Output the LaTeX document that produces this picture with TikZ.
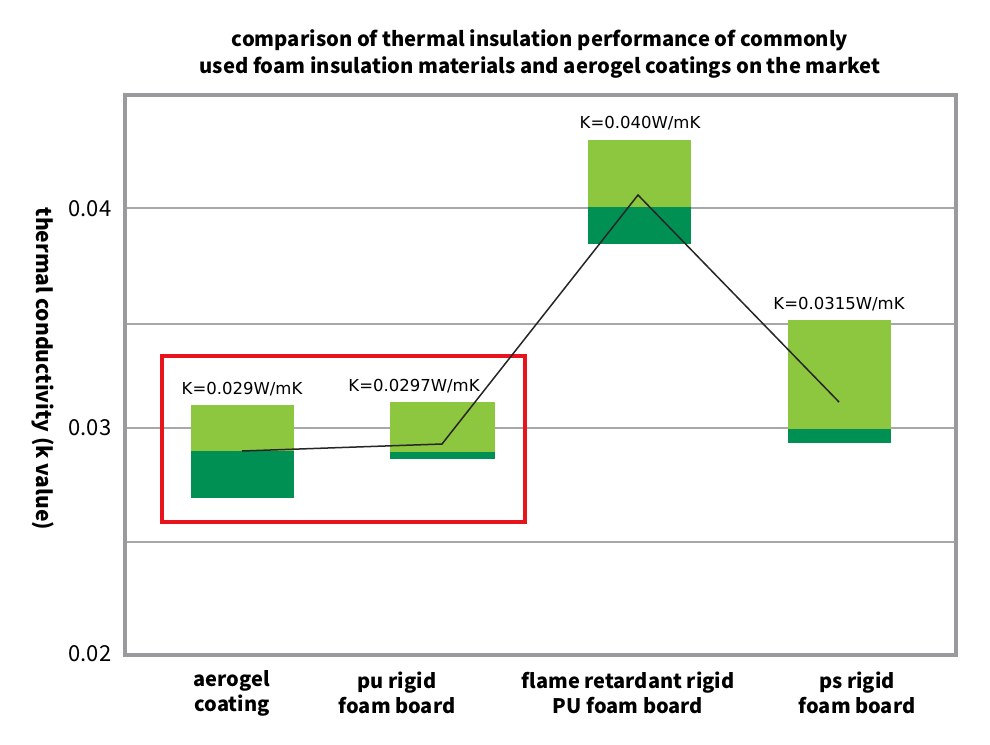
\documentclass[tikz,border=0pt]{standalone}
\usepackage{fontspec}
\newfontfamily\cjk{Noto Sans CJK SC}
\newfontfamily\dv{DejaVu Sans}
\definecolor{lgreen}{HTML}{8DC63F}
\definecolor{dgreen}{HTML}{009053}
\definecolor{framegray}{HTML}{9A9A9C}
\definecolor{gridgray}{HTML}{A8A8AA}
\definecolor{hired}{HTML}{E8141C}
\tikzset{
  titletext/.style={font=\cjk\bfseries\fontsize{20.2}{27}\selectfont, align=center, inner sep=0pt},
  axislabel/.style={font=\cjk\bfseries\fontsize{20}{25}\selectfont, align=center, inner sep=0pt},
  ylabelstyle/.style={font=\cjk\bfseries\fontsize{21}{25}\selectfont, inner sep=0pt},
  ticklabel/.style={font=\cjk\fontsize{22}{24}\selectfont, inner sep=0pt},
  klabel/.style={font=\dv\fontsize{16.5}{18}\selectfont, inner sep=0pt},
  gridline/.style={draw=gridgray, line width=2pt},
  framebox/.style={draw=framegray, line width=4pt},
  hibox/.style={draw=hired, line width=4pt},
  trend/.style={draw=black!85, line width=1.5pt, line join=miter},
}
\begin{document}
\begin{tikzpicture}[x=1pt,y=-1pt]
\useasboundingbox[fill=white] (0,0) rectangle (990,744);
% title
\node[titletext] (title) at (540,54) {comparison of thermal insulation performance of commonly\\used foam insulation materials and aerogel coatings on the market};
% grid
\draw[gridline] (125,208) -- (956,208);
\draw[gridline] (125,324) -- (956,324);
\draw[gridline] (125,428) -- (956,428);
\draw[gridline] (125,542) -- (956,542);
% bars
\fill[lgreen] (191,405) rectangle (294,451);
\fill[dgreen] (191,451) rectangle (294,498);
\fill[lgreen] (390,402) rectangle (495,452);
\fill[dgreen] (390,452) rectangle (495,459);
\fill[lgreen] (588,140) rectangle (691,207);
\fill[dgreen] (588,207) rectangle (691,244);
\fill[lgreen] (788,320) rectangle (891,429);
\fill[dgreen] (788,429) rectangle (891,443);
% frame
\draw[framebox] (125,95) rectangle (956,655);
% highlight box
\draw[hibox] (162,356) rectangle (525,522);
% trend line
\coordinate (p1) at (242,451);
\coordinate (p2) at (442,444);
\coordinate (p3) at (638,195);
\coordinate (p4) at (839,402);
\draw[trend] (p1) -- (p2) -- (p3) -- (p4);
% value labels
\node[klabel] (k1) at (242,389) {K=0.029W/mK};
\node[klabel] (k2) at (414,386) {K=0.0297W/mK};
\node[klabel] (k3) at (640,123) {K=0.040W/mK};
\node[klabel] (k4) at (839,304) {K=0.0315W/mK};
% ticks
\node[ticklabel] (t4) at (90,209) {0.04};
\node[ticklabel] (t3) at (90,428) {0.03};
\node[ticklabel] (t2) at (90,654) {0.02};
% y label
\node[ylabelstyle, rotate=-90] (ylab) at (43,369) {thermal conductivity (k value)};
% x labels
\node[axislabel] (x1) at (232,693) {aerogel\\coating};
\node[axislabel] (x2) at (397,693) {pu rigid\\foam board};
\node[axislabel] (x3) at (628,693) {flame retardant rigid\\PU foam board};
\node[axislabel] (x4) at (857,693) {ps rigid\\foam board};
\end{tikzpicture}
\end{document}
